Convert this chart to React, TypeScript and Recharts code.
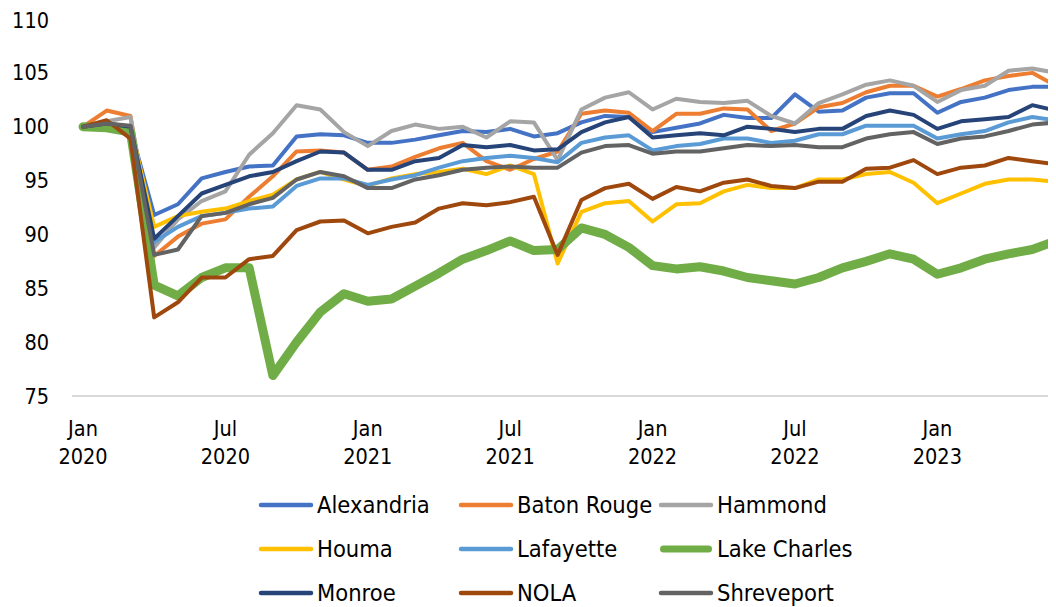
import React from "react";
import { LineChart, Line, XAxis, YAxis, Legend } from "recharts";

const FONT = "'DejaVu Sans Condensed', 'DejaVu Sans', sans-serif";

const months = [
  "Jan 2020", "Feb 2020", "Mar 2020", "Apr 2020", "May 2020", "Jun 2020",
  "Jul 2020", "Aug 2020", "Sep 2020", "Oct 2020", "Nov 2020", "Dec 2020",
  "Jan 2021", "Feb 2021", "Mar 2021", "Apr 2021", "May 2021", "Jun 2021",
  "Jul 2021", "Aug 2021", "Sep 2021", "Oct 2021", "Nov 2021", "Dec 2021",
  "Jan 2022", "Feb 2022", "Mar 2022", "Apr 2022", "May 2022", "Jun 2022",
  "Jul 2022", "Aug 2022", "Sep 2022", "Oct 2022", "Nov 2022", "Dec 2022",
  "Jan 2023", "Feb 2023", "Mar 2023", "Apr 2023", "May 2023", "Jun 2023",
];

const yTicks = [75, 80, 85, 90, 95, 100, 105, 110];

const alexandria = [
  100, 100.2, 99.8, 91.8, 92.8, 95.2, 95.8, 96.3, 96.4, 99.1, 99.3, 99.2,
  98.5, 98.5, 98.8, 99.2, 99.6, 99.5, 99.8, 99.1, 99.4, 100.4, 101.0, 100.9,
  99.5, 99.9, 100.3, 101.1, 100.8, 100.8, 103.0, 101.4, 101.5, 102.7, 103.1, 103.1,
  101.3, 102.3, 102.7, 103.4, 103.7, 103.7,
];
const batonRouge = [
  100, 101.5, 101.0, 88.0, 89.8, 91.0, 91.4, 93.5, 95.4, 97.7, 97.8, 97.6,
  96.0, 96.3, 97.2, 98.0, 98.5, 96.8, 96.0, 97.0, 97.7, 101.2, 101.5, 101.3,
  99.6, 101.2, 101.2, 101.7, 101.6, 99.6, 100.3, 101.8, 102.2, 103.2, 103.8, 103.8,
  102.8, 103.5, 104.3, 104.7, 105.0, 103.8,
];
const hammond = [
  100, 100.5, 100.9, 88.8, 91.4, 93.1, 94.0, 97.4, 99.4, 102.0, 101.6, 99.5,
  98.2, 99.6, 100.2, 99.8, 100.0, 99.0, 100.5, 100.4, 96.9, 101.6, 102.7, 103.2,
  101.6, 102.6, 102.3, 102.2, 102.4, 101.0, 100.3, 102.2, 103.0, 103.9, 104.3, 103.8,
  102.3, 103.4, 103.8, 105.2, 105.4, 105.0,
];
const houma = [
  100, 100.3, 100.0, 90.7, 91.7, 92.1, 92.4, 93.1, 93.7, 95.1, 95.8, 95.1,
  94.5, 95.2, 95.6, 95.8, 96.1, 95.6, 96.4, 95.6, 87.3, 92.1, 92.9, 93.1,
  91.2, 92.8, 92.9, 94.0, 94.6, 94.3, 94.3, 95.1, 95.1, 95.6, 95.8, 94.8,
  92.9, 93.8, 94.7, 95.1, 95.1, 94.9,
];
const lafayette = [
  100, 100.2, 100.0, 89.3, 90.7, 91.7, 92.0, 92.4, 92.6, 94.5, 95.2, 95.2,
  94.6, 95.1, 95.5, 96.2, 96.8, 97.1, 97.3, 97.1, 96.7, 98.5, 99.0, 99.2,
  97.8, 98.2, 98.4, 98.9, 98.9, 98.5, 98.7, 99.3, 99.3, 100.1, 100.1, 100.1,
  98.9, 99.3, 99.6, 100.4, 100.9, 100.6,
];
const lakeCharles = [
  100, 99.9, 99.5, 85.3, 84.3, 86.0, 86.9, 86.9, 76.9, 80.0, 82.8, 84.5,
  83.8, 84.0, 85.2, 86.4, 87.7, 88.5, 89.4, 88.5, 88.6, 90.6, 90.0, 88.8,
  87.1, 86.8, 87.0, 86.6, 86.0, 85.7, 85.4, 86.0, 86.9, 87.5, 88.2, 87.7,
  86.3, 86.9, 87.7, 88.2, 88.6, 89.4,
];
const monroe = [
  100, 100.3, 100.0, 89.6, 91.7, 93.8, 94.6, 95.4, 95.8, 96.8, 97.7, 97.6,
  96.0, 96.0, 96.8, 97.1, 98.3, 98.1, 98.3, 97.8, 97.9, 99.5, 100.4, 100.9,
  99.0, 99.2, 99.4, 99.2, 100.0, 99.8, 99.5, 99.8, 99.8, 101.0, 101.5, 101.1,
  99.8, 100.5, 100.7, 100.9, 102.0, 101.5,
];
const nola = [
  100, 100.6, 98.9, 82.3, 83.7, 86.0, 86.0, 87.7, 88.0, 90.4, 91.2, 91.3,
  90.1, 90.7, 91.1, 92.4, 92.9, 92.7, 93.0, 93.5, 88.1, 93.2, 94.3, 94.7,
  93.3, 94.4, 94.0, 94.8, 95.1, 94.5, 94.3, 94.9, 94.9, 96.1, 96.2, 96.9,
  95.6, 96.2, 96.4, 97.1, 96.8, 96.5,
];
const shreveport = [
  100, 100.3, 100.1, 88.1, 88.6, 91.7, 92.0, 92.8, 93.4, 95.1, 95.8, 95.4,
  94.3, 94.3, 95.1, 95.5, 96.0, 96.2, 96.3, 96.2, 96.2, 97.6, 98.2, 98.3,
  97.5, 97.7, 97.7, 98.0, 98.3, 98.2, 98.3, 98.1, 98.1, 98.9, 99.3, 99.5,
  98.4, 98.9, 99.1, 99.6, 100.2, 100.4,
];

const series = [
  { name: "Alexandria", values: alexandria, color: "#4472C4", width: 4 },
  { name: "Baton Rouge", values: batonRouge, color: "#ED7D31", width: 4 },
  { name: "Hammond", values: hammond, color: "#A5A5A5", width: 4 },
  { name: "Houma", values: houma, color: "#FFC000", width: 4 },
  { name: "Lafayette", values: lafayette, color: "#5B9BD5", width: 4 },
  { name: "Lake Charles", values: lakeCharles, color: "#70AD47", width: 9 },
  { name: "Monroe", values: monroe, color: "#264478", width: 4 },
  { name: "NOLA", values: nola, color: "#9E480E", width: 4 },
  { name: "Shreveport", values: shreveport, color: "#636363", width: 4 },
];

const data = months.map((month, i) => {
  const row: Record<string, string | number> = { month };
  series.forEach((s) => {
    row[s.name] = s.values[i];
  });
  return row;
});

function MonthTick({ x, y, payload }: any) {
  const [mon, yr] = String(payload.value).split(" ");
  return (
    <g transform={`translate(${x},${y})`}>
      <text textAnchor="middle" fill="#000" fontSize={21.5} fontFamily={FONT}>
        <tspan x={0} y={38}>{mon}</tspan>
        <tspan x={0} y={66}>{yr}</tspan>
      </text>
    </g>
  );
}

function renderLegend() {
  return (
    <div
      style={{
        display: "grid",
        gridTemplateColumns: "200px 200px 200px",
        gridAutoRows: "44px",
        fontFamily: FONT,
        fontSize: 23.5,
        color: "#000",
      }}
    >
      {series.map((s) => (
        <div key={s.name} style={{ display: "flex", alignItems: "center" }}>
          <svg width={59} height={14} style={{ flex: "none" }}>
            <line
              x1={s.width / 2 + 1}
              y1={7}
              x2={55 - s.width / 2}
              y2={7}
              stroke={s.color}
              strokeWidth={s.width > 4 ? 7 : 4.5}
              strokeLinecap="round"
            />
          </svg>
          <span style={{ whiteSpace: "nowrap" }}>{s.name}</span>
        </div>
      ))}
    </div>
  );
}

export default function App() {
  return (
    <div style={{ width: 1048, height: 599, overflow: "hidden" }}>
      <LineChart
        width={1060}
        height={599}
        data={data}
        margin={{ top: 11, right: 0, bottom: 131, left: 0 }}
      >
        <XAxis
          dataKey="month"
          interval={5}
          padding={{ left: 11, right: 12 }}
          tickSize={0}
          tickLine={false}
          axisLine={{ stroke: "#D9D9D9", strokeWidth: 2 }}
          height={80}
          tick={<MonthTick />}
        />
        <YAxis
          domain={[75, 110]}
          ticks={yTicks}
          width={64}
          tickSize={0}
          tickMargin={23}
          axisLine={false}
          tickLine={false}
          tick={{ fill: "#000", fontSize: 21.5, fontFamily: FONT }}
        />
        <Legend
          layout="horizontal"
          verticalAlign="middle"
          align="center"
          wrapperStyle={{ left: 250, top: 475, width: 620 }}
          content={renderLegend}
        />
        {series.map((s) => (
          <Line
            key={s.name}
            type="linear"
            dataKey={s.name}
            stroke={s.color}
            strokeWidth={s.width}
            strokeLinejoin="round"
            strokeLinecap="round"
            dot={false}
            activeDot={false}
            isAnimationActive={false}
          />
        ))}
      </LineChart>
    </div>
  );
}
